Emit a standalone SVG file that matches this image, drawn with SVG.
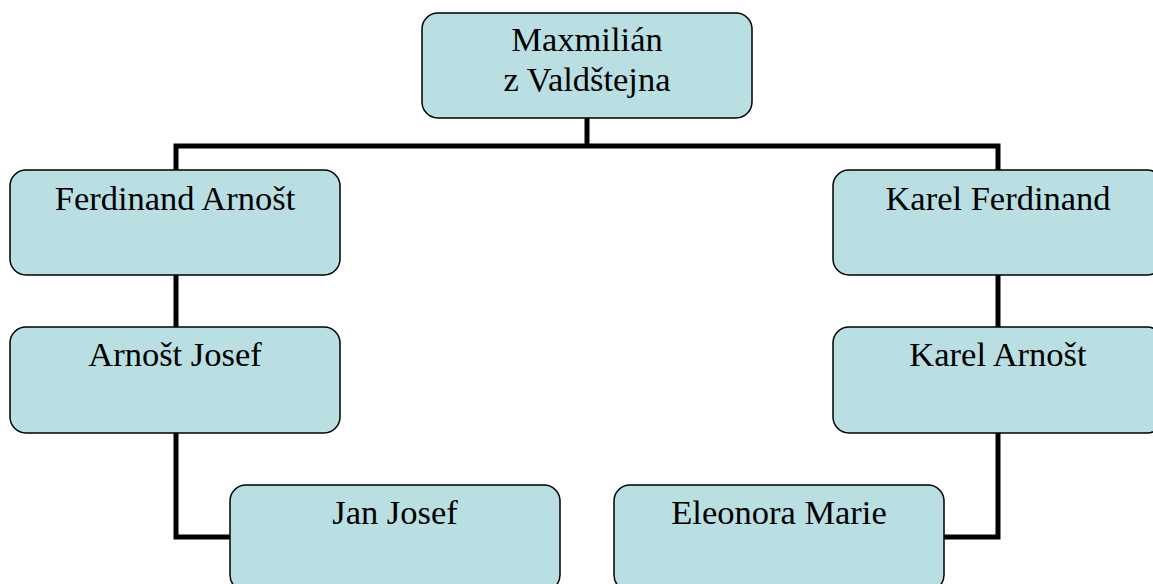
<svg xmlns="http://www.w3.org/2000/svg" width="1153" height="584" viewBox="0 0 1153 584">
<style>
.box{fill:#b9dfe3;stroke:#000;stroke-width:1.5}
.lbl{font-family:"Liberation Serif","Times New Roman",serif;font-size:34.5px;fill:#000;text-anchor:middle}
.con{fill:none;stroke:#000;stroke-width:5;stroke-linejoin:miter}
</style>
<rect width="1153" height="584" fill="#fff"/>
<g id="connectors">
<path class="con" d="M587 118 V146"/>
<path class="con" d="M176 172 V146 H998 V172"/>
<path class="con" d="M176 275 V327 M998 275 V327"/>
<path class="con" d="M176 433 V537 H230 M998 433 V537 H944"/>
</g>
<g id="n-max">
<rect class="box" x="422" y="13" width="330" height="105" rx="16"/>
<text class="lbl" x="587" y="51">Maxmilián</text>
<text class="lbl" x="587" y="91">z Valdštejna</text>
</g>
<g id="n-ferd">
<rect class="box" x="10" y="170" width="330" height="105" rx="16"/>
<text class="lbl" x="175" y="210">Ferdinand Arnošt</text>
</g>
<g id="n-karelf">
<rect class="box" x="833" y="170" width="330" height="105" rx="16"/>
<text class="lbl" x="998" y="210">Karel Ferdinand</text>
</g>
<g id="n-arnost">
<rect class="box" x="10" y="327" width="330" height="106" rx="16"/>
<text class="lbl" x="175" y="366">Arnošt Josef</text>
</g>
<g id="n-karela">
<rect class="box" x="833" y="327" width="330" height="106" rx="16"/>
<text class="lbl" x="998" y="366">Karel Arnošt</text>
</g>
<g id="n-jan">
<rect class="box" x="230" y="485" width="330" height="106" rx="16"/>
<text class="lbl" x="395" y="524">Jan Josef</text>
</g>
<g id="n-eleonora">
<rect class="box" x="614" y="485" width="330" height="106" rx="16"/>
<text class="lbl" x="779" y="524">Eleonora Marie</text>
</g>
</svg>
